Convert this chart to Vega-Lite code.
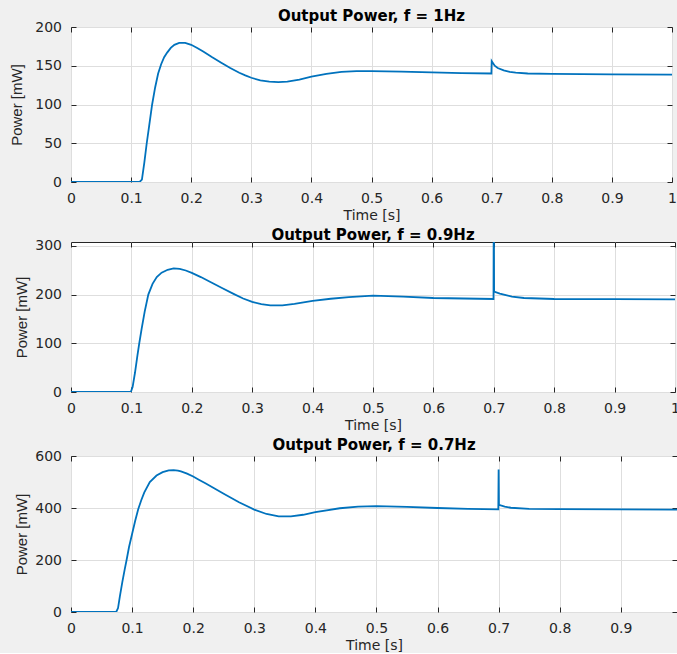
{
  "$schema": "https://vega.github.io/schema/vega-lite/v6.json",
  "background": "#f0f0f0",
  "padding": {"left": 9, "top": 8, "right": 0, "bottom": 0},
  "columns": 1,
  "align": "none",
  "spacing": 4,
  "datasets": {
    "f1": [
      {"t": 0, "p": 0}, {"t": 0.114, "p": 0}, {"t": 0.118, "p": 3}, {"t": 0.122, "p": 25}, {"t": 0.126, "p": 50},
      {"t": 0.13, "p": 72}, {"t": 0.135, "p": 100}, {"t": 0.14, "p": 122}, {"t": 0.145, "p": 140}, {"t": 0.15, "p": 152},
      {"t": 0.155, "p": 161}, {"t": 0.16, "p": 167}, {"t": 0.166, "p": 173}, {"t": 0.172, "p": 177}, {"t": 0.18, "p": 179.5},
      {"t": 0.19, "p": 179.5}, {"t": 0.2, "p": 177}, {"t": 0.21, "p": 173}, {"t": 0.22, "p": 168.5}, {"t": 0.235, "p": 161},
      {"t": 0.25, "p": 154}, {"t": 0.265, "p": 147}, {"t": 0.28, "p": 141}, {"t": 0.29, "p": 137.5}, {"t": 0.3, "p": 134.5},
      {"t": 0.315, "p": 131}, {"t": 0.33, "p": 129.5}, {"t": 0.345, "p": 129}, {"t": 0.36, "p": 129.5}, {"t": 0.38, "p": 132},
      {"t": 0.4, "p": 136}, {"t": 0.425, "p": 139.5}, {"t": 0.45, "p": 142}, {"t": 0.475, "p": 143}, {"t": 0.5, "p": 143},
      {"t": 0.55, "p": 142.5}, {"t": 0.6, "p": 141.5}, {"t": 0.65, "p": 140.5}, {"t": 0.6995, "p": 140}, {"t": 0.7, "p": 156},
      {"t": 0.705, "p": 150}, {"t": 0.71, "p": 147}, {"t": 0.72, "p": 144}, {"t": 0.73, "p": 142}, {"t": 0.74, "p": 141},
      {"t": 0.76, "p": 140}, {"t": 0.8, "p": 139.5}, {"t": 0.9, "p": 139}, {"t": 1.0, "p": 138.5}
    ],
    "f09": [
      {"t": 0, "p": 0}, {"t": 0.099, "p": 0}, {"t": 0.102, "p": 10}, {"t": 0.106, "p": 40}, {"t": 0.11, "p": 75},
      {"t": 0.113, "p": 100}, {"t": 0.117, "p": 130}, {"t": 0.122, "p": 165}, {"t": 0.128, "p": 200}, {"t": 0.135, "p": 222},
      {"t": 0.142, "p": 236}, {"t": 0.15, "p": 245}, {"t": 0.16, "p": 251}, {"t": 0.17, "p": 254}, {"t": 0.18, "p": 253},
      {"t": 0.19, "p": 249.5}, {"t": 0.2, "p": 244.5}, {"t": 0.215, "p": 236}, {"t": 0.23, "p": 226.5}, {"t": 0.25, "p": 213.5},
      {"t": 0.27, "p": 201}, {"t": 0.285, "p": 192}, {"t": 0.3, "p": 185}, {"t": 0.315, "p": 180.5}, {"t": 0.33, "p": 178},
      {"t": 0.35, "p": 178}, {"t": 0.37, "p": 181}, {"t": 0.4, "p": 187}, {"t": 0.43, "p": 191.5}, {"t": 0.46, "p": 195},
      {"t": 0.5, "p": 198}, {"t": 0.55, "p": 196}, {"t": 0.6, "p": 193}, {"t": 0.65, "p": 192}, {"t": 0.6995, "p": 191},
      {"t": 0.7, "p": 420}, {"t": 0.7005, "p": 206}, {"t": 0.71, "p": 202}, {"t": 0.72, "p": 199}, {"t": 0.73, "p": 196},
      {"t": 0.75, "p": 193}, {"t": 0.8, "p": 191}, {"t": 0.9, "p": 190.5}, {"t": 1.0, "p": 190}
    ],
    "f07": [
      {"t": 0, "p": 0}, {"t": 0.074, "p": 0}, {"t": 0.077, "p": 15}, {"t": 0.08, "p": 60}, {"t": 0.084, "p": 115},
      {"t": 0.088, "p": 165}, {"t": 0.091, "p": 200}, {"t": 0.095, "p": 250}, {"t": 0.1, "p": 300}, {"t": 0.105, "p": 350},
      {"t": 0.11, "p": 395}, {"t": 0.115, "p": 430}, {"t": 0.12, "p": 460}, {"t": 0.129, "p": 500}, {"t": 0.14, "p": 525},
      {"t": 0.15, "p": 538}, {"t": 0.16, "p": 545}, {"t": 0.168, "p": 546}, {"t": 0.175, "p": 543.5}, {"t": 0.18, "p": 540.5},
      {"t": 0.19, "p": 532}, {"t": 0.2, "p": 521}, {"t": 0.21, "p": 508}, {"t": 0.22, "p": 495}, {"t": 0.235, "p": 475},
      {"t": 0.25, "p": 455}, {"t": 0.275, "p": 422}, {"t": 0.3, "p": 394}, {"t": 0.32, "p": 377}, {"t": 0.34, "p": 368},
      {"t": 0.36, "p": 368}, {"t": 0.38, "p": 374}, {"t": 0.4, "p": 384}, {"t": 0.44, "p": 399}, {"t": 0.47, "p": 405},
      {"t": 0.5, "p": 407}, {"t": 0.55, "p": 404}, {"t": 0.6, "p": 400}, {"t": 0.65, "p": 397}, {"t": 0.6995, "p": 395},
      {"t": 0.7, "p": 548}, {"t": 0.7005, "p": 412}, {"t": 0.71, "p": 405}, {"t": 0.72, "p": 401}, {"t": 0.75, "p": 397},
      {"t": 0.8, "p": 396}, {"t": 0.9, "p": 395}, {"t": 0.992, "p": 394}
    ]
  },
  "concat": [
    {
      "width": 601, "height": 155,
      "title": {"text": "Output Power, f = 1Hz"},
      "data": {"name": "f1"},
      "layer": [
        {
          "mark": {"type": "line", "color": "#0072bd", "strokeWidth": 1.8, "clip": true},
          "encoding": {
            "x": {"field": "t", "type": "quantitative", "scale": {"domain": [0, 1], "nice": false, "zero": false},
                  "axis": {"title": "Time [s]", "values": [0, 0.1, 0.2, 0.3, 0.4, 0.5, 0.6, 0.7, 0.8, 0.9, 1], "format": ".1~f"}},
            "y": {"field": "p", "type": "quantitative", "scale": {"domain": [0, 200], "nice": false},
                  "axis": {"title": "Power [mW]", "values": [0, 50, 100, 150, 200], "titlePadding": 10}}
          }
        },
        {
          "mark": {"type": "line", "opacity": 0, "clip": true},
          "encoding": {
            "x": {"field": "t", "type": "quantitative", "axis": {"orient": "top", "labels": false, "grid": false, "title": null, "values": [0, 0.1, 0.2, 0.3, 0.4, 0.5, 0.6, 0.7, 0.8, 0.9, 1]}},
            "y": {"field": "p", "type": "quantitative", "axis": {"orient": "right", "labels": false, "grid": false, "title": null, "values": [0, 50, 100, 150, 200]}}
          }
        }
      ],
      "resolve": {"axis": {"x": "independent", "y": "independent"}}
    },
    {
      "width": 604, "height": 150,
      "title": {"text": "Output Power, f = 0.9Hz"},
      "data": {"name": "f09"},
      "layer": [
        {
          "mark": {"type": "line", "color": "#0072bd", "strokeWidth": 1.8, "clip": true},
          "encoding": {
            "x": {"field": "t", "type": "quantitative", "scale": {"domain": [0, 1], "nice": false, "zero": false},
                  "axis": {"title": "Time [s]", "values": [0, 0.1, 0.2, 0.3, 0.4, 0.5, 0.6, 0.7, 0.8, 0.9, 1], "format": ".1~f"}},
            "y": {"field": "p", "type": "quantitative", "scale": {"domain": [0, 308], "nice": false},
                  "axis": {"title": "Power [mW]", "values": [0, 100, 200, 300]}}
          }
        },
        {
          "mark": {"type": "line", "opacity": 0, "clip": true},
          "encoding": {
            "x": {"field": "t", "type": "quantitative", "axis": {"orient": "top", "labels": false, "grid": false, "title": null, "values": [0, 0.1, 0.2, 0.3, 0.4, 0.5, 0.6, 0.7, 0.8, 0.9, 1]}},
            "y": {"field": "p", "type": "quantitative", "axis": {"orient": "right", "labels": false, "grid": false, "title": null, "values": [0, 100, 200, 300]}}
          }
        }
      ],
      "resolve": {"axis": {"x": "independent", "y": "independent"}}
    },
    {
      "width": 606, "height": 156,
      "title": {"text": "Output Power, f = 0.7Hz"},
      "data": {"name": "f07"},
      "layer": [
        {
          "mark": {"type": "line", "color": "#0072bd", "strokeWidth": 1.8, "clip": true},
          "encoding": {
            "x": {"field": "t", "type": "quantitative", "scale": {"domain": [0, 0.992], "nice": false, "zero": false},
                  "axis": {"title": "Time [s]", "values": [0, 0.1, 0.2, 0.3, 0.4, 0.5, 0.6, 0.7, 0.8, 0.9], "format": ".1~f"}},
            "y": {"field": "p", "type": "quantitative", "scale": {"domain": [0, 600], "nice": false},
                  "axis": {"title": "Power [mW]", "values": [0, 200, 400, 600]}}
          }
        },
        {
          "mark": {"type": "line", "opacity": 0, "clip": true},
          "encoding": {
            "x": {"field": "t", "type": "quantitative", "axis": {"orient": "top", "labels": false, "grid": false, "title": null, "values": [0, 0.1, 0.2, 0.3, 0.4, 0.5, 0.6, 0.7, 0.8, 0.9]}},
            "y": {"field": "p", "type": "quantitative", "axis": {"orient": "right", "labels": false, "grid": false, "title": null, "values": [0, 200, 400, 600]}}
          }
        }
      ],
      "resolve": {"axis": {"x": "independent", "y": "independent"}}
    }
  ],
  "config": {
    "view": {"fill": "white", "stroke": "#262626", "strokeWidth": 1},
    "axis": {
      "domain": false, "grid": true, "gridColor": "#dedede", "gridWidth": 1,
      "ticks": true, "tickSize": -5, "tickColor": "#262626", "labelPadding": 14.5,
      "labelFont": "DejaVu Sans", "labelFontSize": 14, "labelColor": "#262626",
      "labelFlush": false, "labelOverlap": false,
      "titleFont": "DejaVu Sans", "titleFontSize": 14, "titleFontWeight": "normal", "titleColor": "#262626"
    },
    "axisX": {"titlePadding": 2.5},
    "axisY": {"titleFont": "Liberation Sans", "titleFontSize": 15, "titlePadding": 5},
    "title": {"font": "DejaVu Sans", "fontSize": 15, "fontWeight": "bold", "color": "#000000", "offset": -4, "baseline": "alphabetic", "anchor": "middle"}
  }
}
